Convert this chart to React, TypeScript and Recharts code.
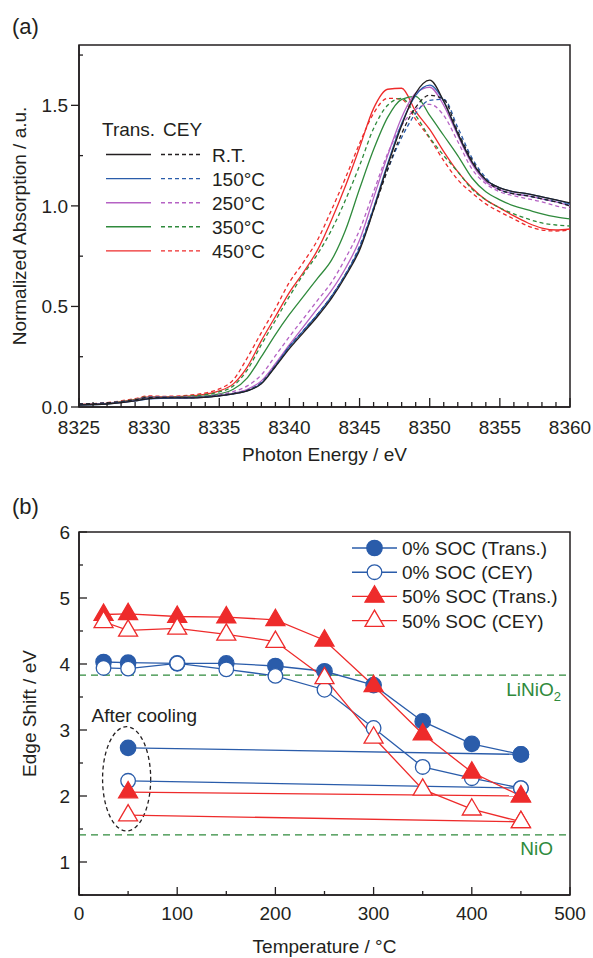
import React from 'react'
import { LineChart, Line, XAxis, YAxis, ReferenceLine, ReferenceArea, Legend } from 'recharts'

const FONT = '"Liberation Sans", Arial, Helvetica, sans-serif'
const INK = '#231f20'
const BLACK = '#231f20'
const BLUE = '#2a5caa'
const PURPLE = '#b562c4'
const GREEN = '#2f8a3c'
const RED = '#ee2b2b'
const FS = 19

// ---- (a) XANES spectra ----
const energies = [8325, 8327, 8329, 8330, 8331, 8333, 8335, 8336, 8337, 8338, 8339, 8340, 8341, 8342, 8343, 8344, 8345, 8346, 8347, 8348, 8349, 8350, 8351, 8352, 8353, 8354, 8355, 8356, 8357, 8358, 8359, 8360]

const rtTrans = [0.01, 0.015, 0.03, 0.042, 0.045, 0.045, 0.055, 0.065, 0.08, 0.115, 0.2, 0.29, 0.37, 0.45, 0.54, 0.65, 0.78, 0.98, 1.2, 1.4, 1.56, 1.625, 1.52, 1.36, 1.22, 1.13, 1.09, 1.07, 1.06, 1.045, 1.03, 1.015]
const rtCey = [0.015, 0.02, 0.035, 0.048, 0.048, 0.047, 0.057, 0.067, 0.082, 0.12, 0.205, 0.3, 0.38, 0.46, 0.55, 0.66, 0.79, 0.98, 1.18, 1.36, 1.49, 1.55, 1.53, 1.37, 1.23, 1.13, 1.08, 1.06, 1.05, 1.035, 1.02, 1.0]
const t150Trans = [0.01, 0.015, 0.03, 0.04, 0.043, 0.045, 0.055, 0.065, 0.08, 0.118, 0.205, 0.3, 0.38, 0.46, 0.55, 0.66, 0.79, 0.99, 1.21, 1.41, 1.55, 1.6, 1.52, 1.36, 1.22, 1.13, 1.09, 1.07, 1.06, 1.045, 1.03, 1.01]
const t150Cey = [0.015, 0.02, 0.035, 0.047, 0.048, 0.047, 0.057, 0.067, 0.083, 0.122, 0.205, 0.3, 0.38, 0.46, 0.55, 0.66, 0.8, 0.99, 1.18, 1.34, 1.46, 1.525, 1.53, 1.39, 1.24, 1.14, 1.08, 1.06, 1.05, 1.035, 1.02, 1.005]
const t250Trans = [0.012, 0.017, 0.032, 0.045, 0.046, 0.046, 0.057, 0.068, 0.088, 0.13, 0.215, 0.31, 0.4, 0.49, 0.58, 0.69, 0.83, 1.04, 1.25, 1.44, 1.56, 1.59, 1.5, 1.35, 1.21, 1.12, 1.08, 1.06, 1.05, 1.035, 1.02, 1.0]
const t250Cey = [0.015, 0.02, 0.036, 0.05, 0.05, 0.05, 0.062, 0.077, 0.105, 0.16, 0.255, 0.35, 0.44, 0.53, 0.62, 0.74, 0.88, 1.07, 1.26, 1.4, 1.48, 1.505, 1.45, 1.32, 1.185, 1.11, 1.07, 1.05, 1.035, 1.02, 1.0, 0.985]
const t350Trans = [0.012, 0.017, 0.035, 0.048, 0.048, 0.05, 0.065, 0.088, 0.145, 0.25, 0.36, 0.46, 0.55, 0.64, 0.73, 0.88, 1.085, 1.28, 1.44, 1.53, 1.545, 1.45, 1.35, 1.25, 1.14, 1.07, 1.03, 1.0, 0.98, 0.96, 0.945, 0.935]
const t350Cey = [0.015, 0.02, 0.038, 0.052, 0.05, 0.055, 0.075, 0.105, 0.185, 0.31, 0.43, 0.55, 0.66, 0.76, 0.88, 1.03, 1.2, 1.385, 1.5, 1.535, 1.45, 1.34, 1.25, 1.17, 1.085, 1.03, 0.99, 0.96, 0.935, 0.915, 0.905, 0.9]
const t450Trans = [0.013, 0.018, 0.038, 0.05, 0.05, 0.055, 0.08, 0.115, 0.2, 0.33, 0.45, 0.57, 0.67, 0.78, 0.93, 1.1, 1.29, 1.485, 1.58, 1.585, 1.47, 1.38, 1.27, 1.17, 1.09, 1.03, 0.99, 0.95, 0.915, 0.89, 0.88, 0.885]
const t450Cey = [0.015, 0.022, 0.042, 0.055, 0.053, 0.06, 0.09, 0.135, 0.245, 0.37, 0.49, 0.62, 0.72, 0.83, 0.98, 1.14, 1.31, 1.46, 1.535, 1.53, 1.43, 1.335, 1.225, 1.13, 1.065, 1.01, 0.97, 0.935, 0.9, 0.88, 0.875, 0.88]

const energyTicks = [8325, 8326, 8327, 8328, 8329, 8330, 8331, 8332, 8333, 8334, 8335, 8336, 8337, 8338, 8339, 8340, 8341, 8342, 8343, 8344, 8345, 8346, 8347, 8348, 8349, 8350, 8351, 8352, 8353, 8354, 8355, 8356, 8357, 8358, 8359, 8360]
const energyMajor = [8325, 8330, 8335, 8340, 8345, 8350, 8355, 8360]
const absTicks = [0, 0.25, 0.5, 0.75, 1, 1.25, 1.5, 1.75]
const absMajor = [0, 0.5, 1, 1.5]

// drawn back to front
const spectra = [
  { key: 't450Cey', color: RED, dashed: true, values: t450Cey },
  { key: 't450Trans', color: RED, dashed: false, values: t450Trans },
  { key: 't350Cey', color: GREEN, dashed: true, values: t350Cey },
  { key: 't350Trans', color: GREEN, dashed: false, values: t350Trans },
  { key: 't250Cey', color: PURPLE, dashed: true, values: t250Cey },
  { key: 't250Trans', color: PURPLE, dashed: false, values: t250Trans },
  { key: 't150Cey', color: BLUE, dashed: true, values: t150Cey },
  { key: 'rtCey', color: BLACK, dashed: true, values: rtCey },
  { key: 't150Trans', color: BLUE, dashed: false, values: t150Trans },
  { key: 'rtTrans', color: BLACK, dashed: false, values: rtTrans },
]

const legendA = [
  { label: 'R.T.', color: BLACK },
  { label: '150°C', color: BLUE },
  { label: '250°C', color: PURPLE },
  { label: '350°C', color: GREEN },
  { label: '450°C', color: RED },
]

const chartA = energies.map((e, i) => {
  const row: any = { e }
  spectra.forEach((s) => { row[s.key] = s.values[i] })
  return row
})

// ---- (b) edge shift ----
const temps = [25, 50, 100, 150, 200, 250, 300, 350, 400, 450]
const soc0Trans = [4.03, 4.02, 4.01, 4.01, 3.97, 3.89, 3.68, 3.13, 2.79, 2.63]
const soc0Cey = [3.94, 3.93, 4.01, 3.92, 3.82, 3.61, 3.03, 2.44, 2.27, 2.12]
const soc50Trans = [4.75, 4.76, 4.72, 4.71, 4.67, 4.36, 3.67, 2.94, 2.36, 2.0]
const soc50Cey = [4.64, 4.51, 4.54, 4.45, 4.34, 3.79, 2.89, 2.1, 1.8, 1.61]

// after cooling back down (measured at 50 °C), joined to the 450 °C point
const coolTemps = [50, 450]
const cool0Trans = [2.73, 2.63]
const cool0Cey = [2.23, 2.12]
const cool50Trans = [2.06, 2.0]
const cool50Cey = [1.71, 1.61]

const liNiO2Shift = 3.83
const nioShift = 1.41

const tempTicks = [0, 50, 100, 150, 200, 250, 300, 350, 400, 450, 500]
const tempMajor = [0, 100, 200, 300, 400, 500]
const shiftTicks = [0.5, 1, 1.5, 2, 2.5, 3, 3.5, 4, 4.5, 5, 5.5, 6]
const shiftMajor = [1, 2, 3, 4, 5, 6]

const pts = (xs: number[], ys: number[]) => xs.map((t, i) => ({ t, v: ys[i] }))

type MarkerKind = 'circleFilled' | 'circleOpen' | 'triFilled' | 'triOpen'

const Marker = ({ cx, cy, kind, color }: { cx: number; cy: number; kind: MarkerKind; color: string }) => {
  if (kind === 'circleFilled' || kind === 'circleOpen') {
    const filled = kind === 'circleFilled'
    return <circle cx={cx} cy={cy} r={filled ? 7.7 : 7.3} fill={filled ? color : '#fff'} stroke={color} strokeWidth={1.3} />
  }
  const filled = kind === 'triFilled'
  const p = `${cx},${cy - 10.5} ${cx - 9.5},${cy + 5.8} ${cx + 9.5},${cy + 5.8}`
  return <polygon points={p} fill={filled ? color : '#fff'} stroke={color} strokeWidth={1.3} strokeLinejoin="miter" />
}

const seriesB = [
  { name: '0% SOC (Trans.)', kind: 'circleFilled' as MarkerKind, color: BLUE, main: pts(temps, soc0Trans), cool: pts(coolTemps, cool0Trans) },
  { name: '0% SOC (CEY)', kind: 'circleOpen' as MarkerKind, color: BLUE, main: pts(temps, soc0Cey), cool: pts(coolTemps, cool0Cey) },
  { name: '50% SOC (Trans.)', kind: 'triFilled' as MarkerKind, color: RED, main: pts(temps, soc50Trans), cool: pts(coolTemps, cool50Trans) },
  { name: '50% SOC (CEY)', kind: 'triOpen' as MarkerKind, color: RED, main: pts(temps, soc50Cey), cool: pts(coolTemps, cool50Cey) },
]

// ---- ticks ----
const makeBottomTick = (majors: number[], fmt: (v: number) => string, majorLen: number, minorLen: number, gap: number) => (props: any) => {
  const { x, y, payload } = props
  const major = majors.includes(payload.value)
  return (
    <g>
      <line x1={x} x2={x} y1={y} y2={y - (major ? majorLen : minorLen)} stroke={INK} strokeWidth={1.3} />
      {major && (
        <text x={x} y={y + gap} textAnchor="middle" fontSize={FS} fill={INK}>{fmt(payload.value)}</text>
      )}
    </g>
  )
}

const makeLeftTick = (majors: number[], fmt: (v: number) => string, majorFrom: number, majorTo: number, minorLen: number, gap: number) => (props: any) => {
  const { x, y, payload } = props
  const major = majors.includes(payload.value)
  return (
    <g>
      {major
        ? <line x1={x + majorFrom} x2={x + majorTo} y1={y} y2={y} stroke={INK} strokeWidth={1.3} />
        : <line x1={x} x2={x + minorLen} y1={y} y2={y} stroke={INK} strokeWidth={1.3} />}
      {major && (
        <text x={x - gap} y={y + 7} textAnchor="end" fontSize={FS} fill={INK}>{fmt(payload.value)}</text>
      )}
    </g>
  )
}

const LegendA = () => (
  <svg width={210} height={146} style={{ display: 'block' }}>
    <text x={2} y={18} fontSize={FS} fill={INK}>Trans.</text>
    <text x={63} y={18} fontSize={FS} fill={INK}>CEY</text>
    {legendA.map((r, i) => {
      const cy = 36.5 + i * 24.1
      return (
        <g key={r.label}>
          <line x1={6} x2={51} y1={cy} y2={cy} stroke={r.color} strokeWidth={1.4} />
          <line x1={61} x2={101} y1={cy} y2={cy} stroke={r.color} strokeWidth={1.4} strokeDasharray="4 3" />
          <text x={112} y={cy + 7} fontSize={FS} fill={INK}>{r.label}</text>
        </g>
      )
    })}
  </svg>
)

const LegendB = () => (
  <svg width={240} height={100} style={{ display: 'block' }}>
    {seriesB.map((s, i) => {
      const cy = 12 + i * 24.2
      return (
        <g key={s.name}>
          <line x1={2} x2={47} y1={cy} y2={cy} stroke={s.color} strokeWidth={1.4} />
          <Marker cx={24.5} cy={cy} kind={s.kind} color={s.color} />
          <text x={52} y={cy + 7} fontSize={FS} fill={INK}>{s.name}</text>
        </g>
      )
    })}
  </svg>
)

const RefLabel = (props: any) => {
  const { viewBox, text, sub, inset, drop } = props
  const x = viewBox.x + viewBox.width - inset
  const y = viewBox.y + drop
  return (
    <text x={x} y={y} textAnchor="end" fontSize={FS} fill={GREEN}>
      <tspan>{text}</tspan>
      {sub && <tspan dy={5} fontSize={13}>{sub}</tspan>}
    </text>
  )
}

const CoolingEllipse = (props: any) => {
  const { x, y, width, height } = props
  return (
    <g>
      <ellipse cx={x + width / 2} cy={y + height / 2} rx={width / 2} ry={height / 2} fill="none" stroke={INK} strokeWidth={1.3} strokeDasharray="4 3" />
      <text x={x - 11} y={y - 5} fontSize={FS} fill={INK}>After cooling</text>
    </g>
  )
}

const axisLine = { stroke: INK, strokeWidth: 1.5 }

const SpectraChart = () => (
  <LineChart width={593} height={470} data={chartA} margin={{ top: 45, right: 23, left: 19, bottom: 23 }}>
    <XAxis
      dataKey="e" type="number" domain={[8325, 8360]} ticks={energyTicks} interval={0} allowDataOverflow
      height={40} tickLine={false} tickSize={0} tickMargin={0} axisLine={axisLine}
      tick={makeBottomTick(energyMajor, (v) => String(v), 9, 5, 27)}
      label={{ value: 'Photon Energy / eV', position: 'bottom', offset: 1, fontSize: FS, fill: INK }}
    />
    <YAxis
      type="number" domain={[0, 1.8]} ticks={absTicks} interval={0} allowDataOverflow
      width={60} tickLine={false} tickSize={0} tickMargin={0} axisLine={axisLine}
      tick={makeLeftTick(absMajor, (v) => v.toFixed(1), -8, 0, 4, 11)}
      label={{ value: 'Normalized Absorption / a.u.', angle: -90, position: 'insideLeft', offset: 0, fontSize: FS, fill: INK, style: { textAnchor: 'middle' } }}
    />
    <ReferenceArea x1={8325} x2={8360} y1={0} y2={1.8} fill="none" stroke={INK} strokeWidth={1.5} ifOverflow="visible" />
    {spectra.map((s) => (
      <Line
        key={s.key} dataKey={s.key} type="monotone" stroke={s.color} strokeWidth={1.3}
        strokeDasharray={s.dashed ? '4 3' : undefined} dot={false} activeDot={false}
        isAnimationActive={false}
      />
    ))}
    <Legend
      layout="vertical" align="center" verticalAlign="middle"
      wrapperStyle={{ left: 100, top: 118, width: 210 }}
      content={() => <LegendA />}
    />
  </LineChart>
)

const ShiftChart = () => (
  <LineChart width={593} height={488} margin={{ top: 62, right: 23, left: 19, bottom: 18 }}>
    <XAxis
      dataKey="t" type="number" domain={[0, 500]} ticks={tempTicks} interval={0} allowDataOverflow
      height={45} tickLine={false} tickSize={0} tickMargin={0} axisLine={axisLine}
      tick={makeBottomTick(tempMajor, (v) => String(v), 8, 4, 25)}
      label={{ value: 'Temperature / °C', position: 'bottom', offset: 0, fontSize: FS, fill: INK }}
    />
    <YAxis
      type="number" domain={[0.5, 6]} ticks={shiftTicks} interval={0} allowDataOverflow
      width={60} tickLine={false} tickSize={0} tickMargin={0} axisLine={axisLine}
      tick={makeLeftTick(shiftMajor, (v) => String(v), 0, 8, 4, 9)}
      label={{ value: 'Edge Shift / eV', angle: -90, position: 'insideLeft', offset: 10, fontSize: FS, fill: INK, style: { textAnchor: 'middle' } }}
    />
    <ReferenceArea x1={0} x2={500} y1={0.5} y2={6} fill="none" stroke={INK} strokeWidth={1.5} ifOverflow="visible" />
    <ReferenceLine y={liNiO2Shift} stroke={GREEN} strokeWidth={1.3} strokeDasharray="7 5"
      label={<RefLabel text="LiNiO" sub="2" inset={9} drop={21} />} />
    <ReferenceLine y={nioShift} stroke={GREEN} strokeWidth={1.3} strokeDasharray="7 5"
      label={<RefLabel text="NiO" inset={17} drop={20} />} />
    <ReferenceArea x1={24} x2={73} y1={1.47} y2={3.05} ifOverflow="visible" shape={CoolingEllipse} />
    {seriesB.map((s) => (
      <Line
        key={s.name + '-cool'} data={s.cool} dataKey="v" type="linear" stroke={s.color} strokeWidth={1.3}
        dot={(p: any) => <Marker key={`c-${s.name}-${p.index}`} cx={p.cx} cy={p.cy} kind={s.kind} color={s.color} />}
        activeDot={false} isAnimationActive={false}
      />
    ))}
    {seriesB.map((s) => (
      <Line
        key={s.name} data={s.main} dataKey="v" type="linear" stroke={s.color} strokeWidth={1.3}
        dot={(p: any) => <Marker key={`m-${s.name}-${p.index}`} cx={p.cx} cy={p.cy} kind={s.kind} color={s.color} />}
        activeDot={false} isAnimationActive={false}
      />
    ))}
    <Legend
      layout="vertical" align="center" verticalAlign="middle"
      wrapperStyle={{ left: 350, top: 66, width: 240 }}
      content={() => <LegendB />}
    />
  </LineChart>
)

export default function App() {
  return (
    <div style={{ position: 'absolute', left: 0, top: 0, width: 593, height: 958, background: '#fff', fontFamily: FONT, color: INK }}>
      <div style={{ position: 'absolute', left: 0, top: 0 }}><SpectraChart /></div>
      <div style={{ position: 'absolute', left: 0, top: 470 }}><ShiftChart /></div>
      <div style={{ position: 'absolute', left: 12, top: 14, fontSize: 22 }}>(a)</div>
      <div style={{ position: 'absolute', left: 12, top: 494, fontSize: 22 }}>(b)</div>
    </div>
  )
}
